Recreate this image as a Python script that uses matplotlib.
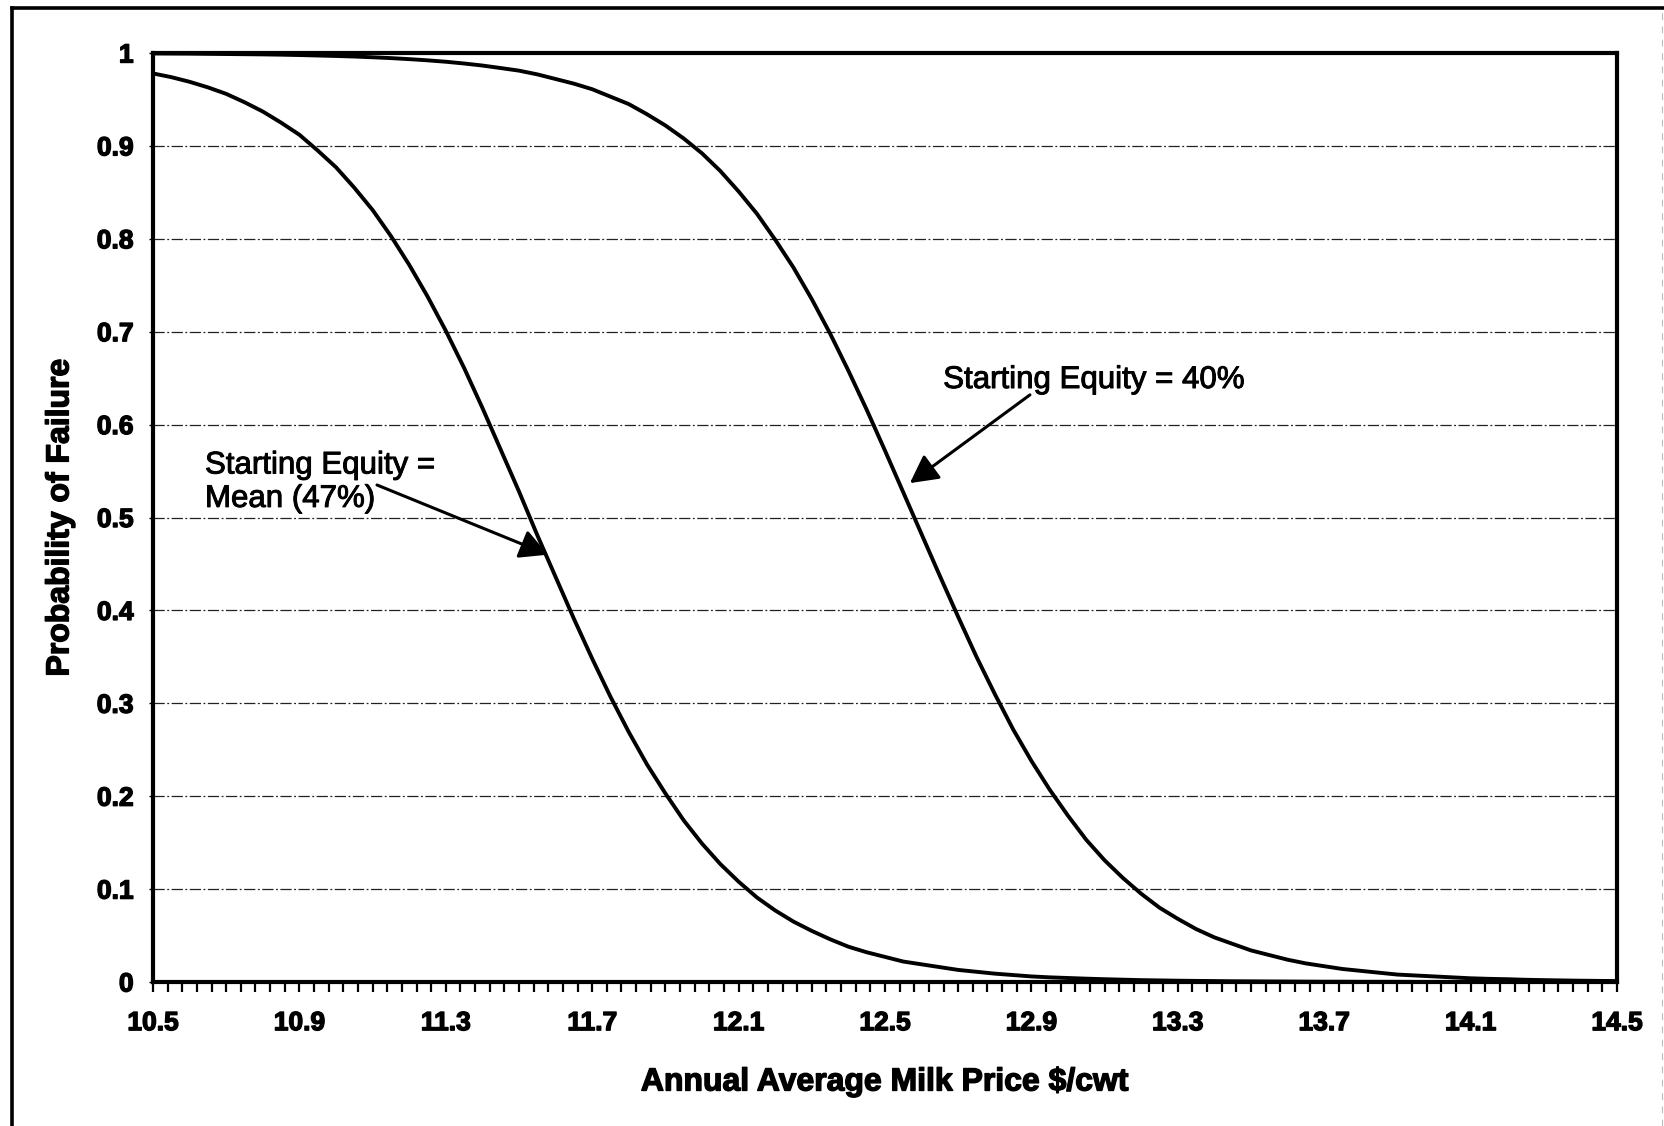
import matplotlib.pyplot as plt
import matplotlib.patheffects as pe
import numpy as np
from matplotlib.lines import Line2D

plt.rcParams['font.family'] = ['Liberation Sans', 'DejaVu Sans']

# Milk price ($/cwt) and probability of failure for two starting equity levels
price = [10.50, 10.55, 10.60, 10.65, 10.70, 10.75, 10.80, 10.85, 10.90, 10.95,
         11.00, 11.05, 11.10, 11.15, 11.20, 11.25, 11.30, 11.35, 11.40, 11.45,
         11.50, 11.55, 11.60, 11.65, 11.70, 11.75, 11.80, 11.85, 11.90, 11.95,
         12.00, 12.05, 12.10, 12.15, 12.20, 12.25, 12.30, 12.35, 12.40, 12.45,
         12.50, 12.55, 12.60, 12.65, 12.70, 12.75, 12.80, 12.85, 12.90, 12.95,
         13.00, 13.05, 13.10, 13.15, 13.20, 13.25, 13.30, 13.35, 13.40, 13.45,
         13.50, 13.55, 13.60, 13.65, 13.70, 13.75, 13.80, 13.85, 13.90, 13.95,
         14.00, 14.05, 14.10, 14.15, 14.20, 14.25, 14.30, 14.35, 14.40, 14.45,
         14.50]

fail_mean = [0.978, 0.974, 0.969, 0.963, 0.956, 0.947, 0.937, 0.925, 0.912, 0.895,
             0.877, 0.855, 0.831, 0.803, 0.772, 0.738, 0.701, 0.661, 0.618, 0.573,
             0.528, 0.481, 0.436, 0.391, 0.348, 0.307, 0.269, 0.234, 0.203, 0.174,
             0.149, 0.127, 0.108, 0.091, 0.077, 0.065, 0.055, 0.046, 0.038, 0.032,
             0.027, 0.022, 0.019, 0.016, 0.013, 0.011, 0.009, 0.0075, 0.006, 0.005,
             0.0043, 0.0036, 0.003, 0.0025, 0.002, 0.0017, 0.0014, 0.0012, 0.001, 0.0008,
             0.0007, 0.0006, 0.0005, 0.0004, 0.0003, 0.0003, 0.0002, 0.0002, 0.0002, 0.0001,
             0.0001, 0.0001, 0.0001, 0.0001, 0.0001, 0.0001, 0.0001, 0.0001, 0.0001, 0.0001,
             0.0001]

fail_40 = [0.9995, 0.9994, 0.9993, 0.9991, 0.9989, 0.9987, 0.9985, 0.9982, 0.9978, 0.9973,
           0.9968, 0.9962, 0.9954, 0.9945, 0.9934, 0.9921, 0.9906, 0.9887, 0.9865, 0.9838,
           0.981, 0.977, 0.972, 0.967, 0.961, 0.953, 0.945, 0.934, 0.922, 0.908,
           0.892, 0.873, 0.851, 0.827, 0.799, 0.769, 0.735, 0.698, 0.658, 0.616,
           0.572, 0.527, 0.482, 0.437, 0.393, 0.350, 0.310, 0.272, 0.238, 0.207,
           0.179, 0.153, 0.131, 0.112, 0.095, 0.080, 0.068, 0.057, 0.048, 0.041,
           0.034, 0.029, 0.024, 0.020, 0.017, 0.014, 0.012, 0.010, 0.008, 0.007,
           0.006, 0.005, 0.004, 0.0034, 0.003, 0.0024, 0.002, 0.0017, 0.0014, 0.0012,
           0.001]

xtick_labels = ['10.5', '10.9', '11.3', '11.7', '12.1', '12.5', '12.9', '13.3', '13.7', '14.1', '14.5']
ytick_labels = ['0', '0.1', '0.2', '0.3', '0.4', '0.5', '0.6', '0.7', '0.8', '0.9', '1']

W, H = 1664, 1126
fig = plt.figure(figsize=(W / 100, H / 100), dpi=100)
ax = fig.add_axes([153 / W, 1 - 982 / H, (1617 - 153) / W, (982 - 53) / H])

# heavier glyphs, like a photocopied print
heavy = [pe.withStroke(linewidth=1.0, foreground='black')]
medium = [pe.withStroke(linewidth=0.7, foreground='black')]

# gridlines
ax.set_ylim(0, 1)
ax.set_xlim(10.5, 14.5)
ax.set_yticks(np.linspace(0, 1, 11))
ax.set_yticklabels(ytick_labels)
ax.grid(axis='y', color='#222222', linewidth=0.9, linestyle=(0, (9, 2, 1.5, 2)))
ax.set_axisbelow(True)

# curves
ax.plot(price, fail_mean, color='black', linewidth=2.8, solid_joinstyle='round')
ax.plot(price, fail_40, color='black', linewidth=2.8, solid_joinstyle='round')

# x ticks: category-style, every 0.04, labels every 0.4
ax.set_xticks(np.linspace(10.5, 14.5, 11))
ax.set_xticklabels(xtick_labels)
ax.set_xticks(np.linspace(10.5, 14.5, 101), minor=True)
ax.tick_params(axis='x', which='both', direction='out', length=7, width=1.6,
               color='black', pad=14, labelsize=19)
ax.tick_params(axis='y', which='both', direction='out', length=3, width=1,
               color='black', pad=11, labelsize=19)
for lab in ax.get_xticklabels() + ax.get_yticklabels():
    lab.set_fontweight('bold')
    lab.set_path_effects(heavy)

for s in ax.spines.values():
    s.set_linewidth(3)
    s.set_color('black')

ax.set_xlabel('Annual Average Milk Price $/cwt', fontsize=23, fontweight='bold',
              path_effects=heavy)
ax.set_ylabel('Probability of Failure', fontsize=23, fontweight='bold',
              path_effects=heavy)
ax.yaxis.set_label_coords(-0.053, 0.5)
ax.xaxis.set_label_coords(0.5, -0.092)

# annotations
arrow = dict(arrowstyle='-|>,head_length=0.85,head_width=0.45', color='black',
             lw=2.2, mutation_scale=20, shrinkA=0, shrinkB=0)
ax.annotate('', xy=(12.568, 0.537), xytext=(12.896, 0.632), arrowprops=arrow)
ax.text(12.659, 0.648, 'Starting Equity = 40%', fontsize=22.5, ha='left',
        va='center', path_effects=medium)

ax.annotate('', xy=(11.579, 0.460), xytext=(11.112, 0.535), arrowprops=arrow)
ax.text(10.642, 0.538, 'Starting Equity =\nMean (47%)', fontsize=22.5, ha='left',
        va='center', linespacing=1.15, path_effects=medium)

# outer frame
fig.add_artist(Line2D([12 / W, 12 / W], [0, 1 - 8 / H], color='black', lw=2.6,
                      transform=fig.transFigure))
fig.add_artist(Line2D([12 / W, 1], [1 - 8 / H, 1 - 8 / H], color='black', lw=2.6,
                      transform=fig.transFigure))
fig.add_artist(Line2D([1662 / W, 1662 / W], [0, 1 - 8 / H], color='#bbbbbb', lw=0.8,
                      linestyle=(0, (6, 6)), transform=fig.transFigure))

fig.savefig('out.png', dpi=100)
